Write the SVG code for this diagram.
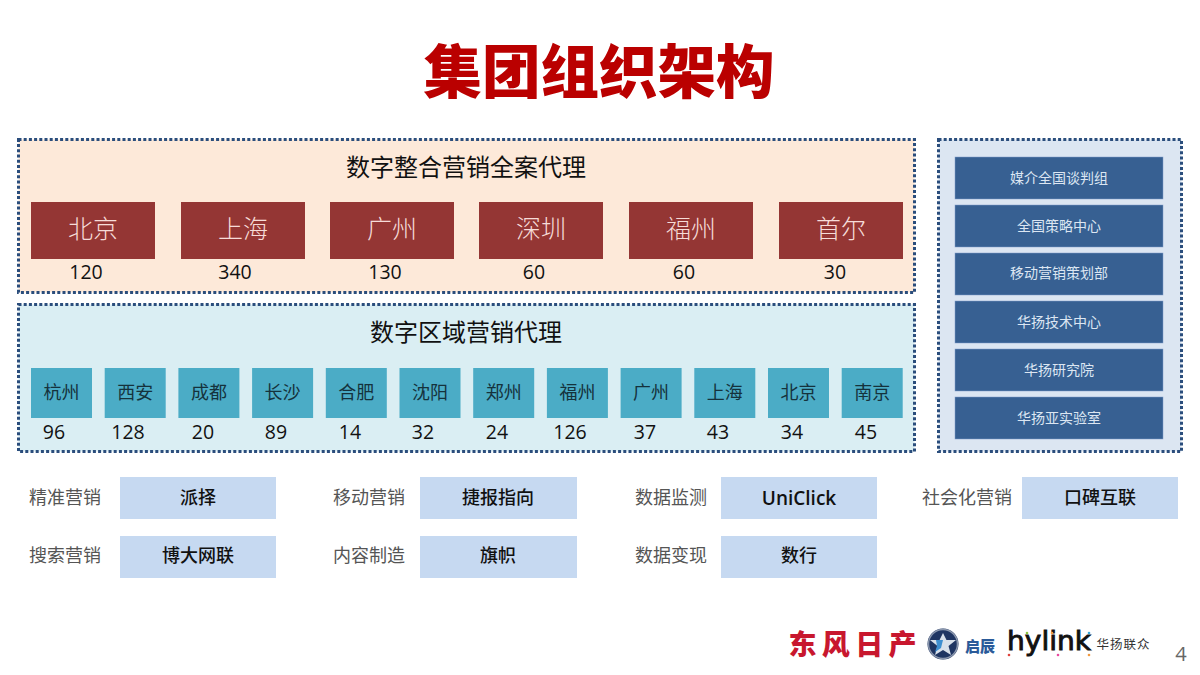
<svg xmlns="http://www.w3.org/2000/svg" width="1200" height="675" viewBox="0 0 1200 675">
<style>
text{font-family:"Noto Sans CJK SC","Open Sans","Noto Sans",sans-serif;text-anchor:middle}
.panel{stroke:#2a4d7c;stroke-width:3;stroke-dasharray:3 2.2}
.red{fill:#943634}
.redt{fill:#f6dcd8;font-size:25px;font-weight:300}
.num{fill:#111;font-size:19.500px;font-family:"Open Sans","Noto Sans",sans-serif}
.head{fill:#111;font-size:24px}
.cell{fill:#4bacc6}
.cellt{fill:#15323c;font-size:18px}
.dept{fill:#376092;stroke:#7f9dc9;stroke-width:.5}
.deptt{fill:#dce6f2;font-size:14px}
.lab{fill:#555;font-size:18px}
.tag{fill:#c6d9f1}
.tagt{fill:#111;font-size:18px;font-weight:500}
</style>
<rect width="1200" height="675" fill="#fff"/>
<text id="title" x="599" y="93" font-size="58.500" font-weight="900" fill="#ba0000">集团组织架构</text>

<g id="panel-integrated">
<rect class="panel" x="18.500" y="139.500" width="896" height="153" fill="#fde9d9"/>
<text class="head" x="466" y="176">数字整合营销全案代理</text>
</g>
<g id="panel-regional">
<rect class="panel" x="18.500" y="304.500" width="896" height="147" fill="#daeef3"/>
<text class="head" x="466" y="341">数字区域营销代理</text>
</g>
<g id="panel-right">
<rect class="panel" x="938.500" y="139.500" width="243" height="312" fill="#dce6f2"/>
</g>

<g id="city-red-1"><rect class="red" x="31" y="202" width="124" height="57"/><text class="redt" x="93" y="238">北京</text><text class="num" x="86" y="279">120</text></g>
<g id="city-red-2"><rect class="red" x="181" y="202" width="124" height="57"/><text class="redt" x="243" y="238">上海</text><text class="num" x="235" y="279">340</text></g>
<g id="city-red-3"><rect class="red" x="330" y="202" width="124" height="57"/><text class="redt" x="392" y="238">广州</text><text class="num" x="385" y="279">130</text></g>
<g id="city-red-4"><rect class="red" x="479" y="202" width="124" height="57"/><text class="redt" x="541" y="238">深圳</text><text class="num" x="534" y="279">60</text></g>
<g id="city-red-5"><rect class="red" x="629" y="202" width="124" height="57"/><text class="redt" x="691" y="238">福州</text><text class="num" x="684" y="279">60</text></g>
<g id="city-red-6"><rect class="red" x="779" y="202" width="124" height="57"/><text class="redt" x="841" y="238">首尔</text><text class="num" x="835" y="279">30</text></g>

<g id="city-blue-1"><rect class="cell" x="31" y="368" width="61" height="50"/><text class="cellt" x="61.500" y="399">杭州</text><text class="num" x="54" y="439">96</text></g>
<g id="city-blue-2"><rect class="cell" x="104.700" y="368" width="61" height="50"/><text class="cellt" x="135.200" y="399">西安</text><text class="num" x="128" y="439">128</text></g>
<g id="city-blue-3"><rect class="cell" x="178.400" y="368" width="61" height="50"/><text class="cellt" x="208.900" y="399">成都</text><text class="num" x="203" y="439">20</text></g>
<g id="city-blue-4"><rect class="cell" x="252.100" y="368" width="61" height="50"/><text class="cellt" x="282.600" y="399">长沙</text><text class="num" x="276" y="439">89</text></g>
<g id="city-blue-5"><rect class="cell" x="325.800" y="368" width="61" height="50"/><text class="cellt" x="356.300" y="399">合肥</text><text class="num" x="350" y="439">14</text></g>
<g id="city-blue-6"><rect class="cell" x="399.500" y="368" width="61" height="50"/><text class="cellt" x="430" y="399">沈阳</text><text class="num" x="423" y="439">32</text></g>
<g id="city-blue-7"><rect class="cell" x="473.200" y="368" width="61" height="50"/><text class="cellt" x="503.700" y="399">郑州</text><text class="num" x="497" y="439">24</text></g>
<g id="city-blue-8"><rect class="cell" x="546.900" y="368" width="61" height="50"/><text class="cellt" x="577.400" y="399">福州</text><text class="num" x="570" y="439">126</text></g>
<g id="city-blue-9"><rect class="cell" x="620.600" y="368" width="61" height="50"/><text class="cellt" x="651.100" y="399">广州</text><text class="num" x="645" y="439">37</text></g>
<g id="city-blue-10"><rect class="cell" x="694.300" y="368" width="61" height="50"/><text class="cellt" x="724.800" y="399">上海</text><text class="num" x="718" y="439">43</text></g>
<g id="city-blue-11"><rect class="cell" x="768" y="368" width="61" height="50"/><text class="cellt" x="798.500" y="399">北京</text><text class="num" x="792" y="439">34</text></g>
<g id="city-blue-12"><rect class="cell" x="841.700" y="368" width="61" height="50"/><text class="cellt" x="872.200" y="399">南京</text><text class="num" x="866" y="439">45</text></g>

<g id="dept-1"><rect class="dept" x="955" y="157" width="208" height="42"/><text class="deptt" x="1059" y="183">媒介全国谈判组</text></g>
<g id="dept-2"><rect class="dept" x="955" y="205" width="208" height="42"/><text class="deptt" x="1059" y="231">全国策略中心</text></g>
<g id="dept-3"><rect class="dept" x="955" y="253" width="208" height="42"/><text class="deptt" x="1059" y="278">移动营销策划部</text></g>
<g id="dept-4"><rect class="dept" x="955" y="301" width="208" height="42"/><text class="deptt" x="1059" y="327">华扬技术中心</text></g>
<g id="dept-5"><rect class="dept" x="955" y="349" width="208" height="42"/><text class="deptt" x="1059" y="375">华扬研究院</text></g>
<g id="dept-6"><rect class="dept" x="955" y="397" width="208" height="42"/><text class="deptt" x="1059" y="423">华扬亚实验室</text></g>

<g id="brand-1"><text class="lab" x="65" y="504">精准营销</text><rect class="tag" x="120" y="477" width="156" height="42"/><text class="tagt" x="198" y="504">派择</text></g>
<g id="brand-2"><text class="lab" x="369" y="504">移动营销</text><rect class="tag" x="420" y="477" width="157" height="42"/><text class="tagt" x="498" y="504">捷报指向</text></g>
<g id="brand-3"><text class="lab" x="671" y="504">数据监测</text><rect class="tag" x="721" y="477" width="156" height="42"/><text class="tagt" x="799" y="505" style="font-size:19px;font-family:'Open Sans',sans-serif;font-weight:600">UniClick</text></g>
<g id="brand-4"><text class="lab" x="967" y="504">社会化营销</text><rect class="tag" x="1022" y="477" width="156" height="42"/><text class="tagt" x="1100" y="504">口碑互联</text></g>
<g id="brand-5"><text class="lab" x="65" y="562">搜索营销</text><rect class="tag" x="120" y="536" width="156" height="42"/><text class="tagt" x="198" y="562">博大网联</text></g>
<g id="brand-6"><text class="lab" x="369" y="562">内容制造</text><rect class="tag" x="420" y="536" width="157" height="42"/><text class="tagt" x="498" y="562">旗帜</text></g>
<g id="brand-7"><text class="lab" x="671" y="562">数据变现</text><rect class="tag" x="721" y="536" width="156" height="42"/><text class="tagt" x="799" y="562">数行</text></g>

<g id="logos">
<text x="852.500" y="655" font-size="28" font-weight="900" fill="#c8172e" textLength="128" lengthAdjust="spacing">东风日产</text>
<circle cx="943" cy="644" r="15.500" fill="#1f3562"/>
<circle cx="943" cy="644" r="14.500" fill="none" stroke="#8b97ad" stroke-width="1.500"/>
<polygon points="943,633 946.500,640 956,640 948.500,646 951,655 943,650 935,655 937.500,646 930,640 939.500,640" fill="#d8e0ea"/>
<polygon points="936,640 943,640 941,648 935,652 937,646" fill="#3f8fd0"/>
<text x="980" y="652" font-size="15" font-weight="900" fill="#2a5a99">启辰</text>
<text x="1049" y="650" font-size="27" fill="#111" stroke="#111" stroke-width=".9" style="font-family:'DejaVu Sans',sans-serif" textLength="84" lengthAdjust="spacingAndGlyphs">hylink</text>
<circle cx="1009" cy="655" r="1.300" fill="#e0433c"/><circle cx="1027" cy="633" r="1.300" fill="#8cc63f"/><circle cx="1052" cy="633" r="1.300" fill="#f29a3f"/><circle cx="1058" cy="655" r="1.300" fill="#e84ba0"/><circle cx="1089" cy="633" r="1.300" fill="#35a7d8"/><circle cx="1089" cy="655" r="1.300" fill="#f29a3f"/>
<text x="1123" y="649" font-size="12.500" fill="#333" textLength="53" lengthAdjust="spacing">华扬联众</text>
</g>
<text id="page" x="1181" y="661" font-size="20" fill="#666" style="font-family:'Open Sans',sans-serif">4</text>
</svg>
